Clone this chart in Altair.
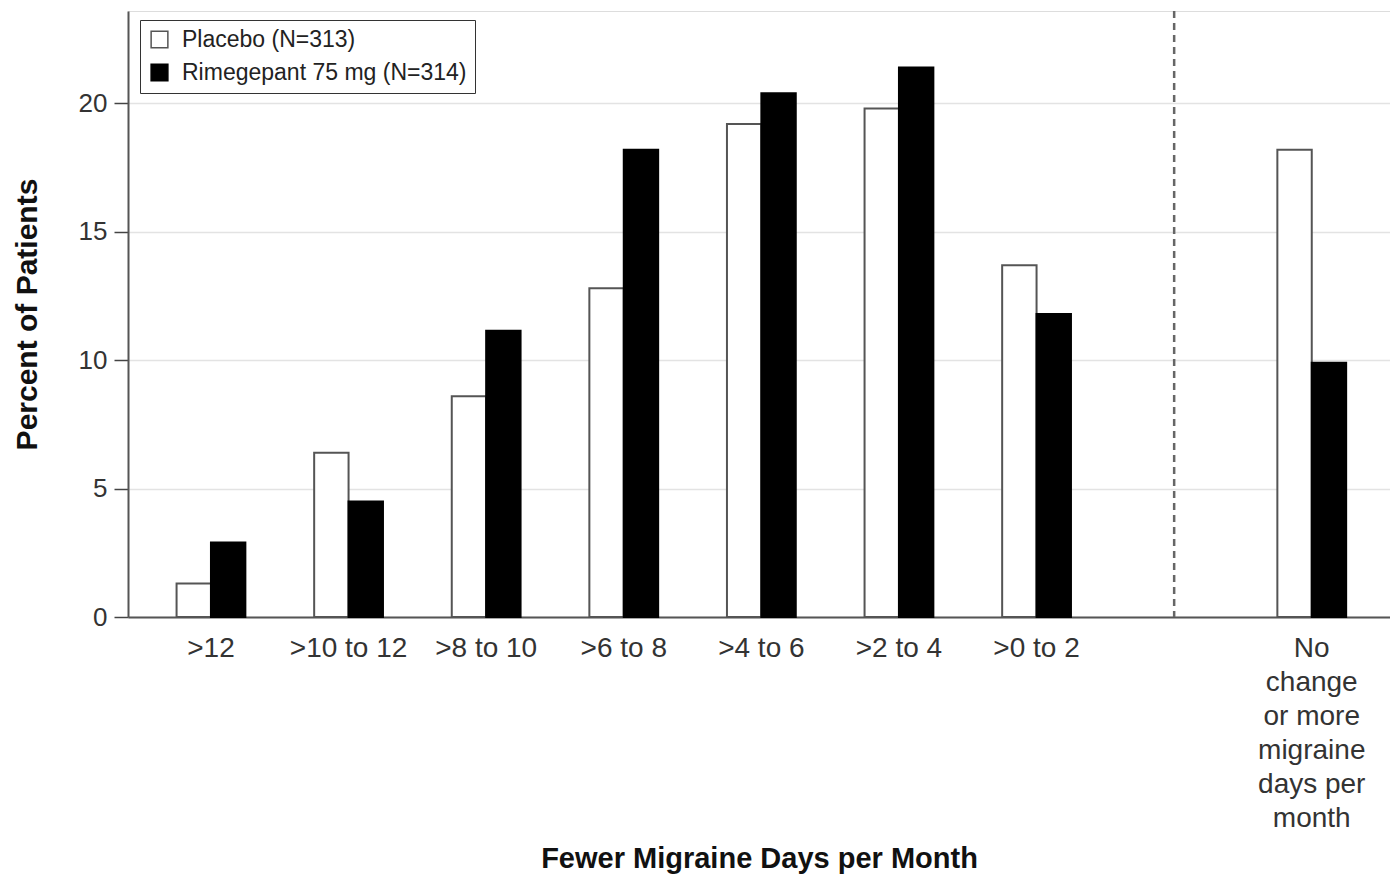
import altair as alt
import pandas as pd

categories = [">12", ">10 to 12", ">8 to 10", ">6 to 8", ">4 to 6", ">2 to 4", ">0 to 2",
              "No change or more migraine days per month"]
gap = " "
placebo = [1.3, 6.4, 8.6, 12.8, 19.2, 19.8, 13.7, 18.2]
rimegepant = [2.9, 4.5, 11.15, 18.2, 20.4, 21.4, 11.8, 9.9]
groups = ["Placebo (N=313)", "Rimegepant 75 mg (N=314)"]
y_ticks = [0, 5, 10, 15, 20]

domain = categories[:7] + [gap] + categories[7:]

rows = []
for c, p, r in zip(categories, placebo, rimegepant):
    rows.append({"cat": c, "group": groups[0], "value": p})
    rows.append({"cat": c, "group": groups[1], "value": r})
df = pd.DataFrame(rows)
rule_df = pd.DataFrame({"cat": [gap]})

FONT = "Liberation Sans"

x_scale = alt.Scale(domain=domain, paddingInner=0, paddingOuter=0.0858, align=0.6)

label_expr = ("datum.label == 'No change or more migraine days per month' ? "
              "['No','change','or more','migraine','days per','month'] : datum.label")

legend_kw = dict(title=None, orient="none", legendX=12, legendY=9,
                 strokeColor="#333", fillColor="white", padding=8,
                 symbolType="square", symbolSize=280, labelLimit=0,
                 symbolStrokeWidth=1.5, labelFontSize=23,
                 labelColor="#222", labelOffset=11, rowPadding=9)

bars = alt.Chart(df).mark_bar(strokeWidth=2).encode(
    x=alt.X("cat:N", scale=x_scale, sort=domain,
            axis=alt.Axis(title="Fewer Migraine Days per Month", labelAngle=0,
                          labelExpr=label_expr, labelFontSize=28, labelLineHeight=34,
                          labelColor="#333", labelPadding=17, ticks=False,
                          domainColor="#555", domainWidth=2,
                          titleFontSize=29, titleFontWeight="bold", titleColor="#111",
                          titleY=250, titleBaseline="alphabetic")),
    xOffset=alt.XOffset("group:N", scale=alt.Scale(domain=groups, paddingInner=0, paddingOuter=1)),
    y=alt.Y("value:Q", scale=alt.Scale(domain=[0, 23.6], nice=False),
            axis=alt.Axis(title="Percent of Patients", values=y_ticks, labelFontSize=26,
                          labelColor="#333", tickSize=14, tickColor="#444", tickWidth=1.5,
                          labelPadding=7, domainColor="#555", domainWidth=2,
                          grid=True, gridColor="#e3e3e3", gridWidth=1.5,
                          titleFontSize=30, titleFontWeight="bold", titleColor="#111",
                          titleAngle=-90, titleX=-101, titleY=303,
                          titleAlign="center", titleBaseline="middle")),
    fill=alt.Fill("group:N", scale=alt.Scale(domain=groups, range=["white", "black"]),
                  legend=alt.Legend(**legend_kw)),
    stroke=alt.Stroke("group:N", scale=alt.Scale(domain=groups, range=["#555", "black"]),
                      legend=alt.Legend(**legend_kw)),
)

rule = alt.Chart(rule_df).mark_rule(color="#666", strokeWidth=2.5, strokeDash=[7, 5]).encode(
    x=alt.X("cat:N", scale=x_scale, sort=domain)
)

chart = alt.layer(bars, rule).properties(
    width=1262, height=606,
    padding={"left": 120, "top": 3, "right": 0, "bottom": 259},
    autosize="none",
).configure_view(
    stroke="#555", strokeWidth=2
).configure(
    font=FONT, background="white"
)

chart.save("out.html", embed_options={"renderer": "svg", "actions": False})
